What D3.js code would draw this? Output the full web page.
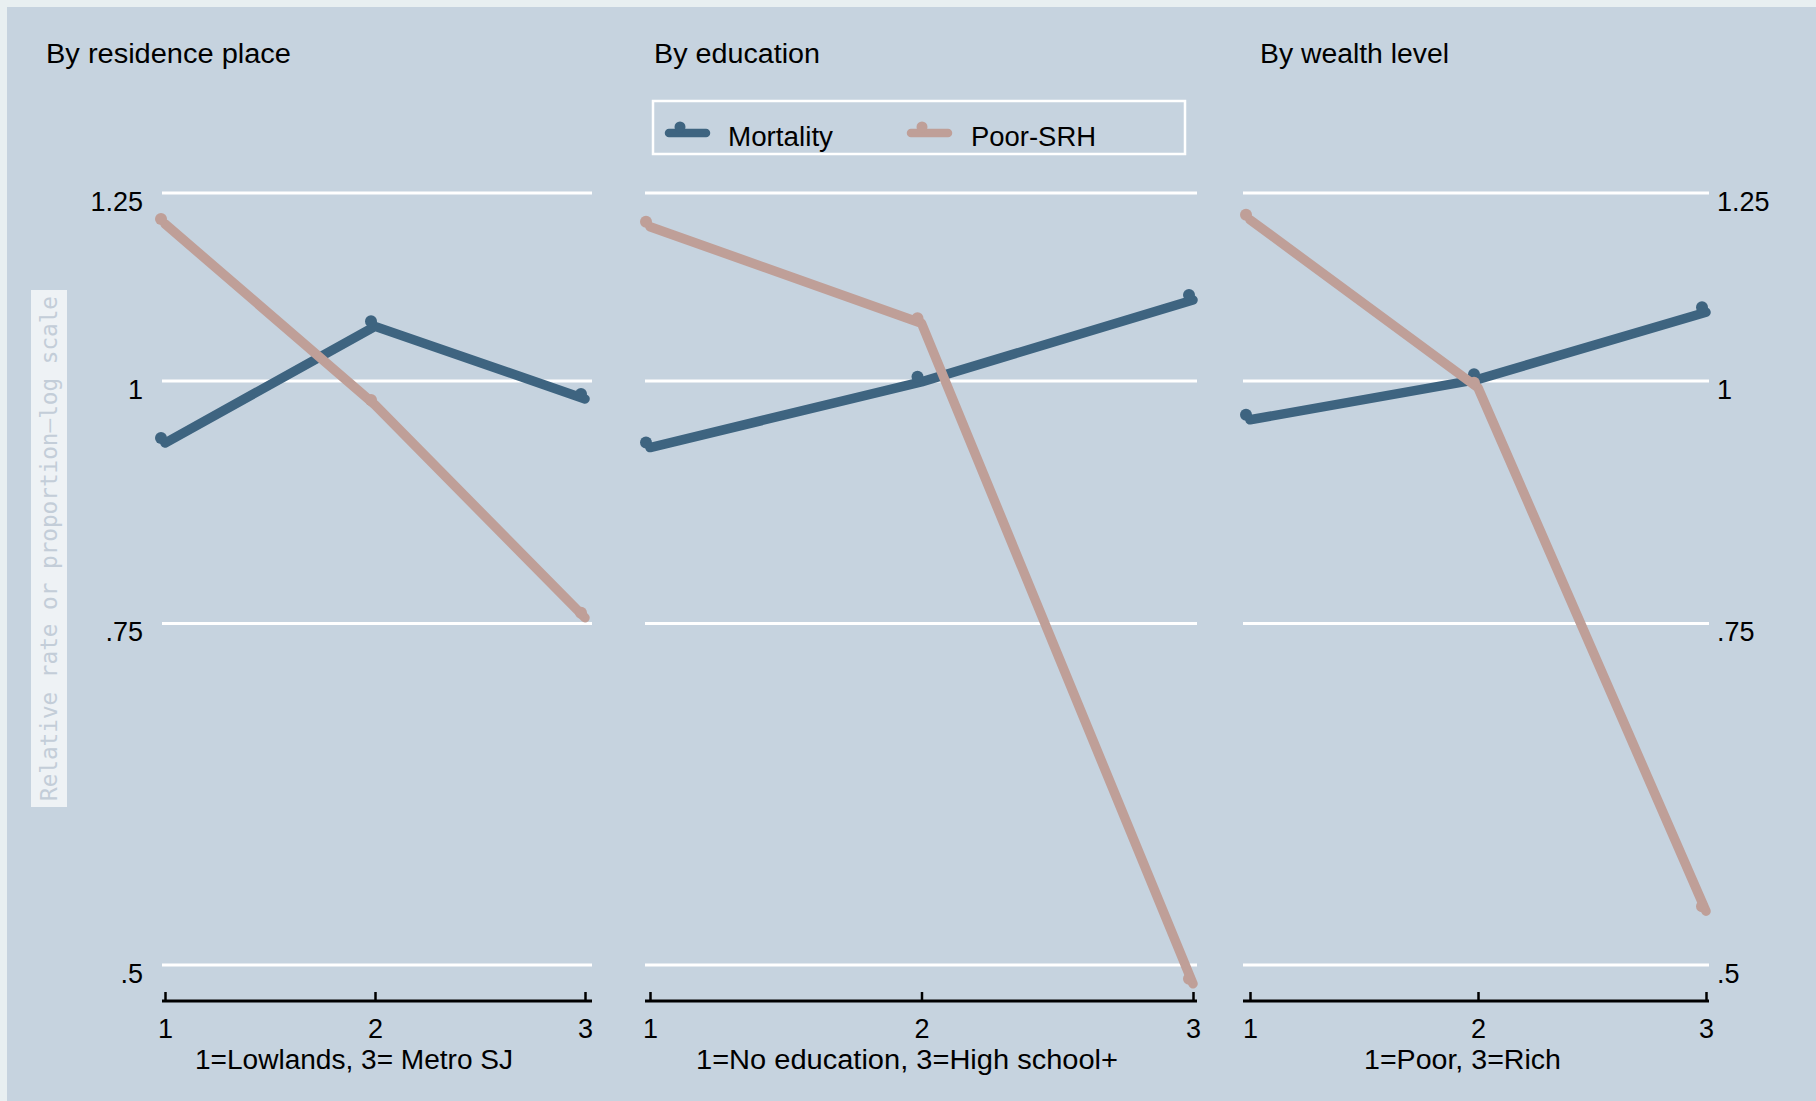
<!DOCTYPE html>
<html>
<head>
<meta charset="utf-8">
<script src="https://cdn.jsdelivr.net/npm/d3@7"></script>
<style>
  html, body { margin: 0; padding: 0; background: #c6d3df; }
  svg { display: block; }
  text { font-family: "Liberation Sans", Arial, sans-serif; fill: #000; }
</style>
</head>
<body>
<script>
// ---------------- data ----------------
const categories = [1, 2, 3];
const panelTitles = ["By residence place", "By education", "By wealth level"];
const xAxisTitles = ["1=Lowlands, 3= Metro SJ", "1=No education, 3=High school+", "1=Poor, 3=Rich"];
const seriesNames = ["Mortality", "Poor-SRH"];
// values per panel (residence, education, wealth) at categories 1,2,3
const mortality = [
  [0.929, 1.067, 0.979],
  [0.924, 0.999, 1.101],
  [0.955, 1.002, 1.085]
];
const poorSRH = [
  [1.205, 0.972, 0.755],
  [1.201, 1.071, 0.489],
  [1.211, 0.992, 0.533]
];
const yTicks = [0.5, 0.75, 1, 1.25];
const yTickLabels = [".5", ".75", "1", "1.25"];
const yAxisTitle = "Relative rate or proportion\u2014log scale";

// ---------------- layout ----------------
const W = 1816, H = 1101;
const colors = ["#3e6480", "#bf9f98"];
const panels = [
  { gx0: 162, gx1: 592, dx0: 165, dx1: 585, titleX: 46, titleW: 245, xtX: 195, xtW: 318 },
  { gx0: 645, gx1: 1197, dx0: 650, dx1: 1193, titleX: 654, titleW: 166, xtX: 696, xtW: 422 },
  { gx0: 1243, gx1: 1709, dx0: 1250, dx1: 1706, titleX: 1260, titleW: 189, xtX: 1364, xtW: 197 }
];
const axisY = 1001;
const fontMain = "'Liberation Sans', Arial, sans-serif";

const svg = d3.select("body").append("svg").attr("width", W).attr("height", H);
svg.append("rect").attr("width", W).attr("height", H).attr("fill", "#c6d3df");
svg.append("rect").attr("x", 0).attr("y", 0).attr("width", W).attr("height", 7).attr("fill", "#e8eff1");
svg.append("rect").attr("x", 0).attr("y", 0).attr("width", 7).attr("height", H).attr("fill", "#e8eff1");

const y = d3.scaleLog().domain([0.5, 1.25]).range([965, 193]);

// Y axis title (boxed)
svg.append("rect").attr("x", 31).attr("y", 290).attr("width", 36).attr("height", 517).attr("fill", "#eef2f5");
svg.append("text")
  .attr("transform", "translate(57," + ((290 + 807) / 2) + ") rotate(-90)")
  .attr("text-anchor", "middle")
  .style("font-family", "'DejaVu Sans Mono', monospace")
  .style("font-size", "23px")
  .style("fill", "#c3cdd8")
  .attr("textLength", 505)
  .attr("lengthAdjust", "spacingAndGlyphs")
  .text(yAxisTitle);

panels.forEach((p, i) => {
  const g = svg.append("g");
  // gridlines
  g.selectAll("line.grid").data(yTicks).join("line")
    .attr("class", "grid")
    .attr("x1", p.gx0).attr("x2", p.gx1)
    .attr("y1", d => y(d)).attr("y2", d => y(d))
    .attr("stroke", "#ffffff").attr("stroke-width", 3);

  // x axis
  const x = d3.scaleLinear().domain([1, 3]).range([p.dx0, p.dx1]);
  const ax = g.append("g").attr("transform", "translate(0," + axisY + ")")
    .call(d3.axisBottom(x).tickValues(categories).tickSize(-9).tickSizeOuter(0).tickFormat(d3.format("d")));
  ax.select(".domain").remove();
  ax.selectAll(".tick line").attr("stroke", "#000").attr("stroke-width", 2.5);
  ax.selectAll(".tick text").attr("y", 37).attr("dy", 0)
    .style("font-size", "27px").style("font-family", fontMain).attr("fill", "#000");
  g.append("line").attr("x1", p.gx0).attr("x2", p.gx1).attr("y1", axisY).attr("y2", axisY)
    .attr("stroke", "#000").attr("stroke-width", 3);

  // panel title
  g.append("text").attr("x", p.titleX).attr("y", 63)
    .style("font-size", "27px")
    .attr("textLength", p.titleW).attr("lengthAdjust", "spacingAndGlyphs")
    .text(panelTitles[i]);
  // x axis title
  g.append("text").attr("x", p.xtX).attr("y", 1069)
    .style("font-size", "27px")
    .attr("textLength", p.xtW).attr("lengthAdjust", "spacingAndGlyphs")
    .text(xAxisTitles[i]);

  // series
  const line = d3.line().x((d, j) => x(categories[j])).y(d => y(d));
  [mortality[i], poorSRH[i]].forEach((vals, s) => {
    g.append("path").datum(vals)
      .attr("d", line)
      .attr("fill", "none")
      .attr("stroke", colors[s]).attr("stroke-width", 9.5)
      .attr("stroke-linejoin", "round").attr("stroke-linecap", "round");
    g.selectAll("circle.s" + s).data(vals).join("circle")
      .attr("class", "s" + s)
      .attr("cx", (d, j) => x(categories[j]) - 4)
      .attr("cy", d => y(d) - 5)
      .attr("r", 6)
      .attr("fill", colors[s]);
  });
});

// left y axis labels (panel 1)
const yl = svg.append("g").attr("transform", "translate(143,0)")
  .call(d3.axisLeft(y).tickValues(yTicks).tickSize(0).tickPadding(0)
    .tickFormat((d) => yTickLabels[yTicks.indexOf(d)]));
yl.select(".domain").remove();
yl.selectAll(".tick text").attr("dy", 17).attr("x", 0)
  .style("font-size", "27px").style("font-family", fontMain).attr("fill", "#000");

// right y axis labels (panel 3)
const yr = svg.append("g").attr("transform", "translate(1717,0)")
  .call(d3.axisRight(y).tickValues(yTicks).tickSize(0).tickPadding(0)
    .tickFormat((d) => yTickLabels[yTicks.indexOf(d)]));
yr.select(".domain").remove();
yr.selectAll(".tick text").attr("dy", 17).attr("x", 0)
  .style("font-size", "27px").style("font-family", fontMain).attr("fill", "#000");

// legend
const lg = svg.append("g");
lg.append("rect").attr("x", 653).attr("y", 101).attr("width", 532).attr("height", 53)
  .attr("fill", "none").attr("stroke", "#ffffff").attr("stroke-width", 2.5);
const legItems = [
  { sx: 665, tx: 728, tw: 105 },
  { sx: 907, tx: 971, tw: 125 }
];
seriesNames.forEach((name, s) => {
  const it = legItems[s];
  lg.append("line").attr("x1", it.sx + 4).attr("x2", it.sx + 41).attr("y1", 133).attr("y2", 133)
    .attr("stroke", colors[s]).attr("stroke-width", 8.5).attr("stroke-linecap", "round");
  lg.append("circle").attr("cx", it.sx + 15).attr("cy", 127).attr("r", 5.5).attr("fill", colors[s]);
  lg.append("text").attr("x", it.tx).attr("y", 146)
    .style("font-size", "27px")
    .attr("textLength", it.tw).attr("lengthAdjust", "spacingAndGlyphs")
    .text(name);
});
</script>
</body>
</html>
